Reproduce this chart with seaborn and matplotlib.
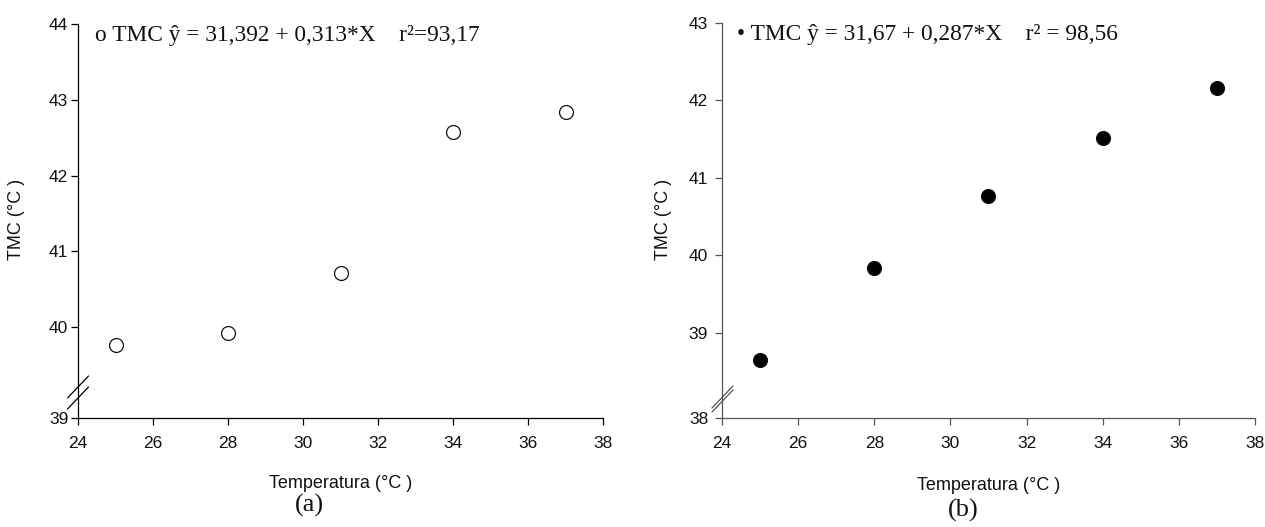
import numpy as np
import pandas as pd
import matplotlib
matplotlib.use("Agg")
import matplotlib.pyplot as plt
from matplotlib.lines import Line2D
import seaborn as sns

# data
temperatura = [25, 28, 31, 34, 37]
tmc_a = [39.53, 39.84, 40.72, 42.57, 42.84]
tmc_b = [38.68, 39.84, 40.76, 41.51, 42.16]

x_ticks = [24, 26, 28, 30, 32, 34, 36, 38]
y_ticks_a = [39, 40, 41, 42, 43, 44]
y_ticks_b = [38, 39, 40, 41, 42, 43]

eq_a = "o TMC ŷ = 31,392 + 0,313*X    r²=93,17"
eq_b = "• TMC ŷ = 31,67 + 0,287*X    r² = 98,56"

sns.set_style("ticks")
plt.rcParams['font.family'] = ['Liberation Sans', 'DejaVu Sans']
SERIF = ['Liberation Serif', 'DejaVu Serif']

W, H = 1265, 527


def broken_scale(src, dst):
    """piecewise linear y scale to mimic the axis break"""
    s = np.array(src, float)
    d = np.array(dst, float)
    k0 = (d[1] - d[0]) / (s[1] - s[0])
    k1 = (d[-1] - d[-2]) / (s[-1] - s[-2])
    s = np.r_[s[0] - 1000, s, s[-1] + 1000]
    d = np.r_[d[0] - 1000 * k0, d, d[-1] + 1000 * k1]
    return (lambda v: np.interp(v, s, d)), (lambda v: np.interp(v, d, s))


def draw_panel(ax, y, filled, yticks, scale_pts, eq, eq_x, spine_col, ypad,
               xlab_y, ylab_x):
    df = pd.DataFrame({"Temperatura": temperatura, "TMC": y})
    sns.scatterplot(data=df, x="Temperatura", y="TMC", ax=ax, s=100,
                    marker="o", color="black" if filled else "white",
                    edgecolor="#111111", linewidth=0.9, zorder=3,
                    legend=False)

    ax.set_yscale("function", functions=broken_scale(*scale_pts))
    ax.set_xlim(24, 38)
    ax.set_ylim(yticks[0], yticks[-1])
    ax.set_xticks(x_ticks)
    ax.set_yticks(yticks)
    ax.set_yticklabels([str(t) for t in yticks])
    ax.minorticks_off()

    sns.despine(ax=ax)
    for side in ["left", "bottom"]:
        ax.spines[side].set_color(spine_col)
        ax.spines[side].set_linewidth(0.9)
    ax.tick_params(axis="both", colors=spine_col, labelcolor="#111111",
                   labelsize=12.5, length=5, width=0.9, direction="out")
    ax.tick_params(axis="x", pad=8)
    ax.tick_params(axis="y", pad=ypad)

    ax.set_xlabel("Temperatura (°C )", fontsize=13, color="#111111")
    ax.set_ylabel("TMC (°C )", fontsize=13, color="#111111")
    ax.xaxis.set_label_coords(0.5, xlab_y)
    ax.yaxis.set_label_coords(ylab_x, 0.503)

    ax.text(eq_x, 0.972, eq, transform=ax.transAxes, ha="left", va="center",
            family=SERIF, fontsize=16.8, color="#111111")


fig = plt.figure(figsize=(W / 100, H / 100), dpi=100)
ax_a = fig.add_axes([78 / W, 109 / H, 525 / W, 394 / H])
ax_b = fig.add_axes([722 / W, 109 / H, 533 / W, 395 / H])

draw_panel(ax_a, tmc_a, False, y_ticks_a,
           ([39, 39.5, 40, 44], [38.8, 39.75, 40, 44]),
           eq_a, 0.032, "black", 2, -0.145, -0.101)
draw_panel(ax_b, tmc_b, True, y_ticks_b,
           ([38, 39, 43], [37.9, 39, 43]),
           eq_b, 0.028, "#555555", 5, -0.150, -0.094)

# axis break marks (double slash across the y axis)
def break_marks(x0, y0, ups, col):
    for up in ups:
        xs = [(x0 - 10.5) / W, (x0 + 10.5) / W]
        ys = [(H - y0 + up - 11) / H, (H - y0 + up + 11) / H]
        fig.add_artist(Line2D(xs, ys, transform=fig.transFigure,
                              color=col, linewidth=0.9))

break_marks(78, 418, [31, 20], "black")
break_marks(722.5, 418, [21, 17], "#555555")

fig.text(309 / W, 1 - 505 / H, "(a)", ha="center", va="center",
         family=SERIF, fontsize=19, color="#111111")
fig.text(963 / W, 1 - 510 / H, "(b)", ha="center", va="center",
         family=SERIF, fontsize=19, color="#111111")

fig.savefig("out.png", dpi=100)
